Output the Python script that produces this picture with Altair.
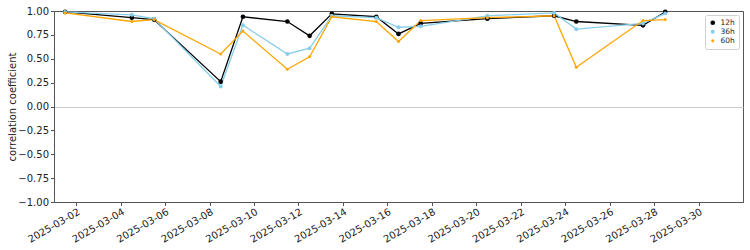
import altair as alt
import pandas as pd

# data
days = ["2025-03-01", "2025-03-04", "2025-03-05", "2025-03-08", "2025-03-09",
        "2025-03-11", "2025-03-12", "2025-03-13", "2025-03-15", "2025-03-16",
        "2025-03-17", "2025-03-20", "2025-03-23", "2025-03-24", "2025-03-27",
        "2025-03-28"]
v12 = [0.99, 0.93, 0.91, 0.26, 0.94, 0.89, 0.74, 0.97, 0.94, 0.76, 0.87, 0.92, 0.95, 0.89, 0.85, 0.99]
v36 = [0.99, 0.96, 0.92, 0.21, 0.85, 0.55, 0.61, 0.95, 0.93, 0.83, 0.84, 0.95, 0.98, 0.81, 0.87, 0.975]
v60 = [0.98, 0.89, 0.91, 0.55, 0.79, 0.39, 0.52, 0.94, 0.89, 0.68, 0.90, 0.93, 0.95, 0.41, 0.90, 0.91]
series = ["12h", "36h", "60h"]
colors = ["black", "skyblue", "orange"]
tick_days = list(range(2, 31, 2))
y_ticks = [-1.0, -0.75, -0.5, -0.25, 0.0, 0.25, 0.5, 0.75, 1.0]

rows = []
for name, vals in zip(series, [v12, v36, v60]):
    for d, v in zip(days, vals):
        rows.append({"date": d + "T12:00:00Z", "value": v, "series": name})
df = pd.DataFrame(rows)

font = "DejaVu Sans"
xscale = alt.Scale(type="utc",
                   domain=[alt.DateTime(year=2025, month=3, date=1, utc=True),
                           alt.DateTime(year=2025, month=4, date=1, utc=True)])
xaxis = alt.Axis(values=[alt.DateTime(year=2025, month=3, date=d, utc=True) for d in tick_days],
                 format="%Y-%m-%d", labelAngle=-30, labelAlign="right", labelBaseline="top",
                 grid=False, title=None, tickSize=3.5, labelPadding=1, labelFontSize=10,
                 labelOverlap=False, labelBound=False, labelFlush=False)
yaxis = alt.Axis(values=y_ticks, format=".2f",
                 labelExpr="replace(datum.label, '-', '\u2212')",
                 grid=True, gridWidth=1,
                 gridColor=alt.condition("datum.value == 0", alt.value("#cccccc"), alt.value("transparent")),
                 title="correlation coefficient", tickSize=3.5, labelPadding=2,
                 titlePadding=0, labelFontSize=10, titleFontSize=10, titleFontWeight="normal",
                 labelOverlap=False, labelFlush=False)
yscale = alt.Scale(domain=[-1, 1], nice=False)

x = alt.X("date:T", scale=xscale, axis=xaxis)
y = alt.Y("value:Q", scale=yscale, axis=yaxis)
cscale = alt.Scale(domain=series, range=colors)

lines = alt.Chart(df).mark_line(strokeWidth=1.3).encode(
    x=x, y=y,
    color=alt.Color("series:N", scale=cscale, legend=None),
)

leg = alt.Legend(title=None, orient="top-right", offset=4)
points = alt.Chart(df).mark_circle(opacity=1).encode(
    x=x, y=y,
    color=alt.Color("series:N", scale=cscale, legend=leg),
    size=alt.Size("series:N", scale=alt.Scale(domain=series, range=[22, 9, 9]), legend=leg),
)

chart = alt.layer(lines, points).resolve_scale(
    color="independent", size="independent"
).properties(
    width=689, height=191,
    autosize=alt.AutoSizeParams(type="none"),
    padding={"left": 54, "top": 11, "right": 7, "bottom": 48},
).configure_view(stroke="#555555", strokeWidth=1).configure_axis(
    domainColor="#555555", tickColor="#555555", labelColor="#222222", titleColor="#222222",
    labelFont=font, titleFont=font,
).configure_legend(
    labelFont=font, labelFontSize=7.5, strokeColor="#d0d0d0", fillColor="white",
    padding=4, cornerRadius=2, rowPadding=0, symbolType="circle", labelColor="#222222",
    symbolStrokeWidth=0,
)

chart.save("out.html", embed_options={"renderer": "svg", "actions": False})
